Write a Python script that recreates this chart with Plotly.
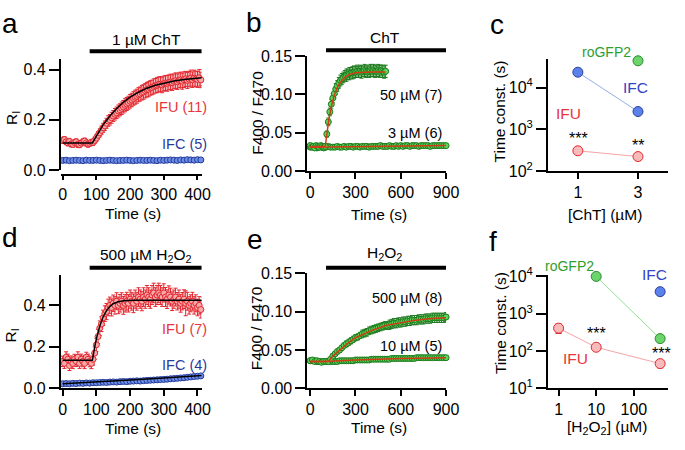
import plotly.graph_objects as go

W, H = 685, 450
FONT = "Liberation Sans, Arial, sans-serif"

# ---------------- data ----------------
# panel a (1 uM ChT), IFU sampled every 5 s, IFC every 10 s
a_ifu_dt = 5
a_ifu = [0.118, 0.121, 0.112, 0.108, 0.113, 0.104, 0.102, 0.109, 0.112, 0.103, 0.101, 0.107, 0.112, 0.115, 0.108, 0.103, 0.106, 0.110,
         0.110, 0.118, 0.127, 0.138, 0.148, 0.158, 0.168, 0.176, 0.186, 0.195,
         0.200, 0.208, 0.215, 0.222, 0.228, 0.235, 0.240, 0.246, 0.252, 0.258,
         0.263, 0.268, 0.274, 0.279, 0.285, 0.290, 0.294, 0.300, 0.303, 0.308,
         0.311, 0.316, 0.320, 0.322, 0.327, 0.329, 0.333, 0.336, 0.338, 0.341,
         0.342, 0.339, 0.344, 0.347, 0.345, 0.349, 0.351, 0.348, 0.353, 0.356,
         0.352, 0.357, 0.359, 0.354, 0.360, 0.363, 0.357, 0.362, 0.366, 0.360,
         0.366, 0.363, 0.361, 0.367, 0.359, 0.368, 0.365]
a_ifu_err = [0.012, 0.012, 0.011, 0.012, 0.013, 0.012, 0.011, 0.012, 0.012, 0.013, 0.012, 0.011, 0.012, 0.012, 0.013, 0.012, 0.011, 0.012,
             0.012, 0.013, 0.014, 0.015, 0.016, 0.017, 0.018, 0.019, 0.020, 0.021,
             0.021, 0.022, 0.022, 0.023, 0.023, 0.024, 0.024, 0.025, 0.025, 0.026,
             0.026, 0.026, 0.027, 0.027, 0.027, 0.028, 0.028, 0.028, 0.028, 0.029,
             0.029, 0.029, 0.029, 0.030, 0.029, 0.029, 0.030, 0.029, 0.030, 0.030,
             0.030, 0.031, 0.030, 0.030, 0.031, 0.030, 0.031, 0.031, 0.030, 0.031,
             0.031, 0.030, 0.031, 0.032, 0.031, 0.030, 0.032, 0.031, 0.032, 0.031,
             0.032, 0.031, 0.032, 0.033, 0.031, 0.032, 0.031]
a_ifu_fit_t = [0, 88, 100, 120, 140, 160, 180, 200, 225, 250, 275, 300, 330, 360, 390, 420]
a_ifu_fit = [0.107, 0.107, 0.135, 0.180, 0.215, 0.245, 0.270, 0.290, 0.310, 0.326, 0.338, 0.347, 0.355, 0.361, 0.365, 0.368]
a_ifc_dt = 10
a_ifc = [0.038, 0.039, 0.037, 0.038, 0.039, 0.038, 0.037, 0.039, 0.038, 0.038,
         0.039, 0.038, 0.037, 0.038, 0.039, 0.038, 0.037, 0.038, 0.038, 0.039,
         0.038, 0.037, 0.038, 0.039, 0.038, 0.038, 0.039, 0.038, 0.037, 0.039,
         0.038, 0.039, 0.040, 0.039, 0.038, 0.040, 0.039, 0.041, 0.040, 0.039,
         0.041, 0.040, 0.039]
a_ifc_err = [0.003, 0.003, 0.004, 0.003, 0.003, 0.004, 0.003, 0.003, 0.003, 0.004,
             0.003, 0.003, 0.004, 0.003, 0.003, 0.003, 0.004, 0.003, 0.003, 0.003,
             0.004, 0.003, 0.003, 0.003, 0.004, 0.003, 0.003, 0.004, 0.003, 0.003,
             0.004, 0.003, 0.003, 0.004, 0.003, 0.003, 0.004, 0.003, 0.004, 0.003,
             0.004, 0.003, 0.004]
a_bar = [80, 415]

# panel d (500 uM H2O2)
d_ifu = [0.13, 0.12, 0.15, 0.14, 0.11, 0.13, 0.12, 0.14, 0.13, 0.15, 0.12, 0.14, 0.13, 0.12, 0.15, 0.14, 0.13, 0.12,
         0.14, 0.17, 0.21, 0.25, 0.29, 0.31, 0.34, 0.36, 0.37, 0.39,
         0.40, 0.39, 0.41, 0.40, 0.42, 0.40, 0.41, 0.42, 0.40, 0.41,
         0.42, 0.41, 0.43, 0.42, 0.41, 0.43, 0.42, 0.44, 0.43, 0.42,
         0.44, 0.43, 0.45, 0.44, 0.43, 0.45, 0.46, 0.44, 0.45, 0.46,
         0.45, 0.44, 0.46, 0.44, 0.43, 0.45, 0.44, 0.42, 0.43, 0.44,
         0.42, 0.43, 0.41, 0.42, 0.43, 0.41, 0.42, 0.40, 0.41, 0.42,
         0.40, 0.41, 0.39, 0.40, 0.38, 0.40, 0.39]
d_ifu_err = [0.025, 0.024, 0.026, 0.025, 0.024, 0.026, 0.025, 0.024, 0.025, 0.026, 0.024, 0.025, 0.026, 0.025, 0.024, 0.025, 0.026, 0.025,
             0.028, 0.030, 0.032, 0.034, 0.035, 0.036, 0.037, 0.038, 0.039, 0.040,
             0.040, 0.041, 0.040, 0.042, 0.041, 0.040, 0.042, 0.041, 0.043, 0.042,
             0.043, 0.042, 0.044, 0.043, 0.045, 0.044, 0.043, 0.045, 0.044, 0.046,
             0.045, 0.044, 0.046, 0.045, 0.044, 0.046, 0.047, 0.045, 0.046, 0.047,
             0.046, 0.045, 0.044, 0.046, 0.045, 0.044, 0.043, 0.045, 0.044, 0.043,
             0.042, 0.044, 0.043, 0.042, 0.045, 0.060, 0.043, 0.042, 0.041, 0.043,
             0.042, 0.041, 0.040, 0.042, 0.041, 0.040, 0.041]
d_ifu_fit_t = [0, 88, 95, 100, 110, 120, 130, 140, 150, 165, 180, 210, 420]
d_ifu_fit = [0.135, 0.135, 0.20, 0.24, 0.30, 0.345, 0.375, 0.395, 0.408, 0.418, 0.422, 0.425, 0.425]
d_ifc = [0.022, 0.023, 0.022, 0.024, 0.023, 0.025, 0.024, 0.026, 0.025, 0.027,
         0.027, 0.028, 0.029, 0.028, 0.030, 0.031, 0.030, 0.032, 0.033, 0.032,
         0.034, 0.035, 0.036, 0.035, 0.037, 0.038, 0.039, 0.040, 0.041, 0.042,
         0.043, 0.044, 0.046, 0.047, 0.048, 0.050, 0.051, 0.053, 0.055, 0.057,
         0.058, 0.060, 0.064]
d_ifc_err = [0.004, 0.004, 0.005, 0.004, 0.004, 0.005, 0.004, 0.005, 0.004, 0.005,
             0.005, 0.004, 0.005, 0.005, 0.004, 0.005, 0.005, 0.006, 0.005, 0.005,
             0.006, 0.005, 0.006, 0.006, 0.005, 0.006, 0.006, 0.007, 0.006, 0.006,
             0.007, 0.006, 0.007, 0.007, 0.006, 0.007, 0.007, 0.008, 0.007, 0.007,
             0.008, 0.007, 0.008]
d_ifc_fit_t = [0, 100, 200, 300, 420]
d_ifc_fit = [0.022, 0.030, 0.040, 0.050, 0.063]
d_bar = [80, 415]

# panel b (roGFP2, ChT)
b_hi_dt = 10
b_hi = [0.033, 0.031, 0.032, 0.030, 0.033, 0.032, 0.031, 0.033, 0.032, 0.031, 0.032,
        0.048, 0.064, 0.077, 0.087, 0.095, 0.101, 0.107, 0.111, 0.115, 0.118,
        0.120, 0.122, 0.124, 0.125, 0.126, 0.127, 0.128, 0.128, 0.129, 0.129,
        0.130, 0.129, 0.130, 0.129, 0.130, 0.131, 0.130, 0.129, 0.130, 0.131,
        0.130, 0.131, 0.130, 0.130, 0.131, 0.130, 0.131, 0.130, 0.129, 0.130]
b_hi_err = [0.003, 0.003, 0.003, 0.003, 0.003, 0.003, 0.003, 0.003, 0.003, 0.003, 0.003,
            0.004, 0.005, 0.005, 0.006, 0.006, 0.006, 0.007, 0.007, 0.007, 0.007,
            0.007, 0.007, 0.007, 0.008, 0.007, 0.008, 0.007, 0.008, 0.008, 0.007,
            0.008, 0.007, 0.008, 0.008, 0.007, 0.008, 0.008, 0.007, 0.008, 0.008,
            0.007, 0.008, 0.008, 0.007, 0.008, 0.008, 0.007, 0.008, 0.008, 0.008]
b_hi_fit_t = [0, 100, 105, 115, 125, 140, 160, 180, 200, 230, 260, 300, 400, 500]
b_hi_fit = [0.032, 0.032, 0.040, 0.056, 0.069, 0.084, 0.099, 0.109, 0.116, 0.122, 0.126, 0.128, 0.129, 0.129]
b_lo_dt = 15
b_lo = [0.031, 0.032, 0.031, 0.030, 0.031, 0.031, 0.030, 0.031, 0.032, 0.031,
        0.031, 0.031, 0.032, 0.031, 0.031, 0.032, 0.031, 0.032, 0.032, 0.031,
        0.032, 0.032, 0.031, 0.032, 0.032, 0.032, 0.031, 0.032, 0.032, 0.032,
        0.032, 0.033, 0.032, 0.032, 0.032, 0.033, 0.032, 0.032, 0.033, 0.032,
        0.033, 0.032, 0.033, 0.033, 0.032, 0.033, 0.033, 0.033, 0.032, 0.033,
        0.033, 0.033, 0.033, 0.032, 0.033, 0.033, 0.033, 0.033, 0.033, 0.033,
        0.033]
b_lo_err = [0.002, 0.003, 0.002, 0.002, 0.003, 0.002, 0.002, 0.003, 0.002, 0.002,
            0.003, 0.002, 0.002, 0.003, 0.002, 0.002, 0.003, 0.002, 0.002, 0.003,
            0.002, 0.002, 0.003, 0.002, 0.002, 0.003, 0.002, 0.002, 0.003, 0.002,
            0.002, 0.003, 0.002, 0.002, 0.003, 0.002, 0.002, 0.003, 0.002, 0.002,
            0.003, 0.002, 0.002, 0.003, 0.002, 0.002, 0.003, 0.002, 0.002, 0.003,
            0.002, 0.002, 0.003, 0.002, 0.002, 0.003, 0.002, 0.002, 0.003, 0.002,
            0.002]
b_lo_fit_t = [0, 900]
b_lo_fit = [0.031, 0.033]
b_bar = [105, 900]

# panel e (roGFP2, H2O2)
e_dt = 15
e_hi = [0.036, 0.037, 0.035, 0.036, 0.035, 0.034, 0.035, 0.035, 0.035,
        0.038, 0.042, 0.045, 0.048, 0.050, 0.053, 0.056, 0.058, 0.060, 0.062,
        0.064, 0.066, 0.067, 0.069, 0.071, 0.072, 0.073, 0.075, 0.076, 0.077,
        0.078, 0.079, 0.080, 0.081, 0.082, 0.082, 0.083, 0.084, 0.085, 0.085,
        0.086, 0.086, 0.087, 0.087, 0.088, 0.088, 0.089, 0.089, 0.089, 0.090,
        0.090, 0.090, 0.091, 0.091, 0.091, 0.092, 0.092, 0.092, 0.092, 0.092,
        0.092, 0.093]
e_hi_err = [0.002, 0.002, 0.002, 0.002, 0.002, 0.002, 0.002, 0.002, 0.002,
            0.002, 0.003, 0.003, 0.003, 0.003, 0.003, 0.003, 0.004, 0.004, 0.004,
            0.004, 0.004, 0.004, 0.004, 0.005, 0.005, 0.005, 0.005, 0.005, 0.005,
            0.005, 0.005, 0.005, 0.005, 0.005, 0.005, 0.006, 0.006, 0.006, 0.006,
            0.006, 0.006, 0.006, 0.006, 0.006, 0.006, 0.006, 0.006, 0.006, 0.006,
            0.006, 0.006, 0.006, 0.006, 0.006, 0.006, 0.006, 0.006, 0.006, 0.006,
            0.006, 0.006]
e_hi_fit_t = [0, 120, 150, 200, 250, 300, 400, 500, 600, 700, 800, 900]
e_hi_fit = [0.035, 0.035, 0.042, 0.051, 0.059, 0.066, 0.075, 0.082, 0.086, 0.089, 0.091, 0.092]
e_lo = [0.036, 0.036, 0.036, 0.035, 0.035, 0.035, 0.035, 0.035, 0.035, 0.035,
        0.035, 0.035, 0.035, 0.036, 0.036, 0.036, 0.036, 0.036, 0.036, 0.036,
        0.037, 0.037, 0.037, 0.037, 0.037, 0.037, 0.037, 0.038, 0.038, 0.038,
        0.038, 0.038, 0.038, 0.038, 0.038, 0.038, 0.039, 0.039, 0.039, 0.039,
        0.039, 0.039, 0.039, 0.039, 0.039, 0.039, 0.039, 0.040, 0.040, 0.040,
        0.040, 0.040, 0.040, 0.040, 0.040, 0.040, 0.040, 0.040, 0.040, 0.040,
        0.040]
e_lo_err = [0.002, 0.002, 0.002, 0.002, 0.002, 0.002, 0.002, 0.002, 0.002, 0.002,
            0.002, 0.002, 0.002, 0.002, 0.002, 0.002, 0.002, 0.002, 0.002, 0.002,
            0.002, 0.002, 0.002, 0.002, 0.002, 0.002, 0.002, 0.002, 0.002, 0.002,
            0.002, 0.002, 0.002, 0.002, 0.002, 0.002, 0.002, 0.002, 0.002, 0.002,
            0.002, 0.002, 0.002, 0.002, 0.002, 0.002, 0.002, 0.002, 0.002, 0.002,
            0.002, 0.002, 0.002, 0.002, 0.002, 0.002, 0.002, 0.002, 0.002, 0.002,
            0.002]
e_lo_fit_t = [0, 100, 300, 600, 900]
e_lo_fit = [0.035, 0.035, 0.037, 0.039, 0.040]
e_bar = [105, 900]

# panel c (time constants vs ChT)
c_x_ifu = [1, 3]
c_ifu = [304, 221]
c_ifu_err = [20, 40]
c_x_ifc = [1, 3]
c_ifc = [23400, 2660]
c_x_ro = [3]
c_ro = [44000]

# panel f (time constants vs H2O2)
f_x_ifu = [1, 10, 500]
f_ifu = [410, 126, 46]
f_ifu_err = [110, 15, 10]
f_x_ro = [10, 500]
f_ro = [10000, 215]
f_x_ifc = [500]
f_ifc = [3900]

# tick labels
ri_ticks = [0.0, 0.2, 0.4]
ratio_ticks = [0.00, 0.05, 0.10, 0.15]
t_ticks_short = [0, 100, 200, 300, 400]
t_ticks_long = [0, 300, 600, 900]
c_xticks = [1, 3]
c_yticks = [100, 1000, 10000]
c_yticktext = ["10<sup>2</sup>", "10<sup>3</sup>", "10<sup>4</sup>"]
f_xticks = [1, 10, 100]
f_xticktext = ["1", "10", "100"]
f_yticks = [10, 100, 1000, 10000]
f_yticktext = ["10<sup>1</sup>", "10<sup>2</sup>", "10<sup>3</sup>", "10<sup>4</sup>"]

# ---------------- colours ----------------
RED_LINE = "#e3262e"
RED_FILL = "#f7a9a9"
BLUE_LINE = "#22389a"
BLUE_FILL = "#6d8ee6"
GREEN_LINE = "#1c7a1c"
GREEN_FILL = "#5ed35e"
FIT_RED = "#d23c14"

TICK_SIZE = 16
TITLE_SIZE = 15.5
LABEL_SIZE = 14.5


def px(x):
    return x / W


def py(y):
    return 1 - y / H


def times(vals, dt):
    return [i * dt for i in range(len(vals))]


fig = go.Figure()


def series(xa, ya, t, y, err, line, fill, size=6):
    fig.add_trace(go.Scatter(
        x=t, y=y, xaxis=xa, yaxis=ya, mode="markers", cliponaxis=False,
        marker=dict(size=size, color=fill, line=dict(color=line, width=1)),
        error_y=dict(type="data", array=err, color=line, thickness=1, width=2),
        showlegend=False, hoverinfo="skip"))


def fitline(xa, ya, t, y, color, width=1.5):
    fig.add_trace(go.Scatter(x=t, y=y, xaxis=xa, yaxis=ya, mode="lines",
                             line=dict(color=color, width=width), cliponaxis=False,
                             showlegend=False, hoverinfo="skip"))


# panel a
series("x", "y", times(a_ifc, a_ifc_dt), a_ifc, a_ifc_err, BLUE_LINE, BLUE_FILL)
series("x", "y", times(a_ifu, a_ifu_dt), a_ifu, a_ifu_err, RED_LINE, RED_FILL)
fitline("x", "y", a_ifu_fit_t, a_ifu_fit, "black")
# panel b
series("x2", "y2", times(b_lo, b_lo_dt), b_lo, b_lo_err, GREEN_LINE, GREEN_FILL)
series("x2", "y2", times(b_hi, b_hi_dt), b_hi, b_hi_err, GREEN_LINE, GREEN_FILL)
fitline("x2", "y2", b_lo_fit_t, b_lo_fit, FIT_RED)
fitline("x2", "y2", b_hi_fit_t, b_hi_fit, FIT_RED)
# panel d
series("x4", "y4", times(d_ifc, a_ifc_dt), d_ifc, d_ifc_err, BLUE_LINE, BLUE_FILL)
fitline("x4", "y4", d_ifc_fit_t, d_ifc_fit, "black")
series("x4", "y4", times(d_ifu, a_ifu_dt), d_ifu, d_ifu_err, RED_LINE, RED_FILL)
fitline("x4", "y4", d_ifu_fit_t, d_ifu_fit, "black")
# panel e
series("x5", "y5", times(e_lo, e_dt), e_lo, e_lo_err, GREEN_LINE, GREEN_FILL)
series("x5", "y5", times(e_hi, e_dt), e_hi, e_hi_err, GREEN_LINE, GREEN_FILL)
fitline("x5", "y5", e_lo_fit_t, e_lo_fit, FIT_RED)
fitline("x5", "y5", e_hi_fit_t, e_hi_fit, FIT_RED)


def tau(xa, ya, x, y, line, fill, lcol, err=None):
    fig.add_trace(go.Scatter(
        x=x, y=y, xaxis=xa, yaxis=ya, mode="lines+markers", cliponaxis=False,
        line=dict(color=lcol, width=1),
        marker=dict(size=10, color=fill, line=dict(color=line, width=1)),
        error_y=(dict(type="data", array=err, color=line, thickness=1.5, width=3)
                 if err is not None else None),
        showlegend=False, hoverinfo="skip"))


# panel c
tau("x3", "y3", c_x_ifc, c_ifc, "#2b3f9c", "#5b82ea", "#94aee8")
tau("x3", "y3", c_x_ifu, c_ifu, RED_LINE, "#f8baba", "#f5a5a5", c_ifu_err)
tau("x3", "y3", c_x_ro, c_ro, "#2a8a2a", "#6cd46c", "#90e090")
# panel f
tau("x6", "y6", f_x_ro, f_ro, "#2a8a2a", "#6cd46c", "#90e090")
tau("x6", "y6", f_x_ifu, f_ifu, RED_LINE, "#f8baba", "#f5a5a5", f_ifu_err)
tau("x6", "y6", f_x_ifc, f_ifc, "#2b3f9c", "#5b82ea", "#94aee8")

base = dict(showline=True, linecolor="black", linewidth=1.5, ticks="outside",
            tickwidth=1.5, tickcolor="black", showgrid=False,
            zeroline=False, tickfont=dict(size=TICK_SIZE, color="black", family=FONT))
xc = dict(base, ticklen=6)
yc = dict(base, ticklen=10)

layout = dict(
    width=W, height=H, margin=dict(l=0, r=0, t=0, b=0),
    paper_bgcolor="white", plot_bgcolor="white",
    font=dict(family=FONT, color="black", size=15),
    showlegend=False,
    # a  (x axis detached a few pixels below the y axis)
    xaxis=dict(xc, domain=[px(60), px(204)], range=[-6, 412], anchor="free",
               position=py(172), tickvals=t_ticks_short, ticklen=5),
    yaxis=dict(yc, domain=[py(167), py(51)], range=[0, 0.443], anchor="x",
               tickvals=ri_ticks, tickformat=".1f"),
    # b
    xaxis2=dict(xc, domain=[px(312), px(454)], range=[-20, 900], anchor="y2",
                tickvals=t_ticks_long),
    yaxis2=dict(yc, domain=[py(168), py(48)], range=[0, 0.15], anchor="x2",
                tickvals=ratio_ticks, tickformat=".2f"),
    # c
    xaxis3=dict(xc, domain=[px(558), px(681)], range=[0, 4], anchor="y3",
                tickvals=c_xticks),
    yaxis3=dict(yc, domain=[py(168), py(51)], type="log", range=[2, 4.69],
                anchor="x3", tickvals=c_yticks, ticktext=c_yticktext),
    # d
    xaxis4=dict(xc, domain=[px(60), px(204)], range=[-6, 412], anchor="y4",
                tickvals=t_ticks_short),
    yaxis4=dict(yc, domain=[py(395), py(277)], range=[0, 0.545], anchor="x4",
                tickvals=ri_ticks, tickformat=".1f"),
    # e
    xaxis5=dict(xc, domain=[px(312), px(454)], range=[-20, 900], anchor="y5",
                tickvals=t_ticks_long),
    yaxis5=dict(yc, domain=[py(395), py(275)], range=[0, 0.15], anchor="x5",
                tickvals=ratio_ticks, tickformat=".2f"),
    # f
    xaxis6=dict(xc, domain=[px(558), px(681)], type="log", range=[-0.287, 2.91],
                anchor="y6", tickvals=f_xticks, ticktext=f_xticktext),
    yaxis6=dict(yc, domain=[py(395), py(277)], type="log", range=[1, 4.03],
                anchor="x6", tickvals=f_yticks, ticktext=f_yticktext),
)
fig.update_layout(**layout)

# treatment bars
shapes = []
for xr, yy, bar in [("x", 43, a_bar), ("x2", 42, b_bar), ("x4", 269, d_bar), ("x5", 269, e_bar)]:
    shapes.append(dict(type="line", xref=xr, yref="paper", x0=bar[0], x1=bar[1],
                       y0=py(yy), y1=py(yy), line=dict(color="black", width=4)))
fig.update_layout(shapes=shapes)

ann = []


def txt(x, y, s, size=TITLE_SIZE, color="black", xanchor="center", angle=0):
    ann.append(dict(x=px(x), y=py(y), xref="paper", yref="paper", text=s,
                    showarrow=False, xanchor=xanchor, yanchor="middle",
                    textangle=angle, font=dict(size=size, color=color, family=FONT)))


# panel letters
for x, y, s in [(8, 14, "a"), (258, 13, "b"), (506, 15, "c"),
                (8, 238, "d"), (259, 240, "e"), (502, 242, "f")]:
    txt(x, y, s, size=28)

# axis titles
txt(134, 212, "Time (s)")
txt(134, 437, "Time (s)")
txt(385, 213, "Time (s)")
txt(385, 436, "Time (s)")
txt(617, 213, "[ChT] (µM)")
txt(619, 436, "[H<sub>2</sub>O<sub>2</sub>] (µM)")
txt(10, 113, "R<sub>I</sub>", angle=-90)
txt(10, 340, "R<sub>I</sub>", angle=-90)
txt(261, 107, "F400 / F470", angle=-90)
txt(261, 332, "F400 / F470", angle=-90)
txt(509, 106, "Time const. (s)", angle=-90)
txt(509, 327, "Time const. (s)", angle=-90)

# bar labels
txt(148, 31, "1 µM ChT")
txt(147, 256, "500 µM H<sub>2</sub>O<sub>2</sub>")
txt(392, 29, "ChT")
txt(391, 254, "H<sub>2</sub>O<sub>2</sub>")

# series labels
txt(212, 101, "IFU (11)", size=LABEL_SIZE, color="#e8353a", xanchor="right")
txt(212, 140, "IFC (5)", size=LABEL_SIZE, color="#2b3b9b", xanchor="right")
txt(212, 333, "IFU (7)", size=LABEL_SIZE, color="#e8353a", xanchor="right")
txt(212, 371, "IFC (4)", size=LABEL_SIZE, color="#2b3b9b", xanchor="right")
txt(452, 89, "50 µM (7)", size=LABEL_SIZE, xanchor="right")
txt(452, 128, "3 µM (6)", size=LABEL_SIZE, xanchor="right")
txt(452, 301, "500 µM (8)", size=LABEL_SIZE, xanchor="right")
txt(452, 351, "10 µM (5)", size=LABEL_SIZE, xanchor="right")

txt(618, 44, "roGFP2", size=14, color="#2e9e2e")
txt(648, 81, "IFC", size=15.5, color="#3344c4")
txt(579, 108, "IFU", size=15.5, color="#e8353a")
txt(589, 134, "***", size=16)
txt(650, 141, "**", size=16)
txt(580, 267, "roGFP2", size=14, color="#2e9e2e")
txt(667, 276, "IFC", size=15.5, color="#3344c4")
txt(586, 364, "IFU", size=15.5, color="#e8353a")
txt(608, 338, "***", size=16)
txt(674, 359, "***", size=16)

fig.update_layout(annotations=ann)
fig.write_html("out.html", config={"displayModeBar": False},
               post_script="document.body.style.margin='0px';document.body.style.padding='0px';")
